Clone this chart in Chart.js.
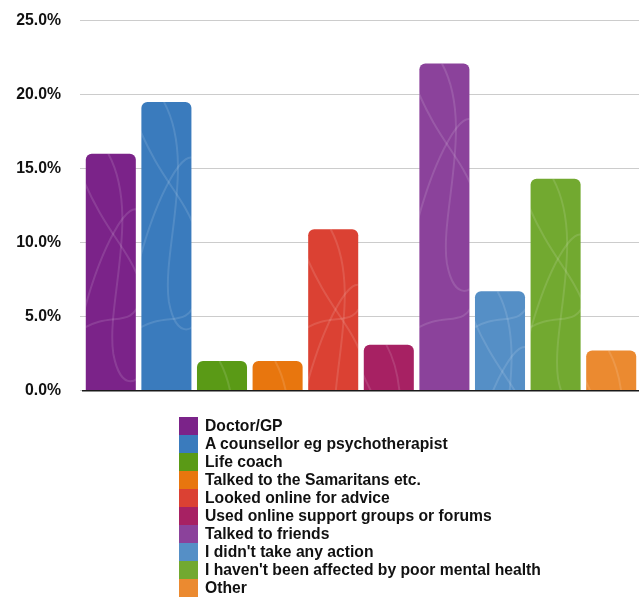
<!DOCTYPE html>
<html>
<head>
<meta charset="utf-8">
<script src="https://cdn.jsdelivr.net/npm/chart.js@4"></script>
<style>
  html, body { margin: 0; padding: 0; background: #fff; }
  #wrap { position: relative; width: 639px; height: 597px; overflow: hidden; }
  #chartBox { position: absolute; left: 0; top: -8px; width: 639px; height: 427px; }
  #legend { position: absolute; left: 179px; top: 417px; margin: 0; padding: 0; list-style: none; }
  #legend li { display: flex; align-items: center; height: 18px; }
  #legend span.box { width: 19px; height: 18px; margin-right: 7px; }
  #legend span.txt { font: bold 15.7px "Liberation Sans", Arial, sans-serif; color: #111; white-space: nowrap; }
</style>
</head>
<body>
<div id="wrap">
  <div id="chartBox"><canvas id="answersChart"></canvas></div>
  <ul id="legend"></ul>
</div>
<script>
// survey answers, share of respondents in %
const answers = [
  "Doctor/GP",
  "A counsellor eg psychotherapist",
  "Life coach",
  "Talked to the Samaritans etc.",
  "Looked online for advice",
  "Used online support groups or forums",
  "Talked to friends",
  "I didn't take any action",
  "I haven't been affected by poor mental health",
  "Other"
];
const shares = [16.0, 19.5, 2.0, 2.0, 10.9, 3.1, 22.1, 6.7, 14.3, 2.7];
const barColors = [
  "#7b2389", "#3a7bbd", "#5a9a16", "#e8760e", "#db4133",
  "#a72163", "#8b429b", "#558fc6", "#72a930", "#eb8a30"
];
const yTicks = [0, 5, 10, 15, 20, 25];

// faint swirl lines over each bar
const swirlPlugin = {
  id: "swirls",
  afterDatasetsDraw(chart) {
    const ctx = chart.ctx;
    chart.getDatasetMeta(0).data.forEach(bar => {
      const p = bar.getProps(["x", "y", "base", "width"], true);
      const left = p.x - p.width / 2, top = p.y, w = p.width, h = p.base - p.y;
      const X = f => left + f * w;
      ctx.save();
      ctx.beginPath();
      ctx.rect(left, top, w, h);
      ctx.clip();
      ctx.strokeStyle = "rgba(255,255,255,0.12)";
      ctx.lineWidth = 2;
      ctx.beginPath();
      ctx.moveTo(X(0.45), top);
      ctx.bezierCurveTo(X(1.1), top + 60, X(0.4), top + 150, X(0.55), top + 200);
      ctx.bezierCurveTo(X(0.7), top + 240, X(1.1), top + 230, X(1.2), top + 210);
      ctx.stroke();
      ctx.beginPath();
      ctx.moveTo(X(-0.1), top + 20);
      ctx.bezierCurveTo(X(0.4), top + 80, X(0.8), top + 90, X(1.1), top + 130);
      ctx.stroke();
      ctx.beginPath();
      ctx.moveTo(X(-0.1), top + 170);
      ctx.bezierCurveTo(X(0.3), top + 90, X(0.9), top + 40, X(1.1), top + 60);
      ctx.stroke();
      ctx.beginPath();
      ctx.moveTo(X(-0.1), p.base - 60);
      ctx.bezierCurveTo(X(0.5), p.base - 80, X(0.9), p.base - 60, X(1.1), p.base - 90);
      ctx.stroke();
      ctx.restore();
    });
  }
};

const chart = new Chart(document.getElementById("answersChart"), {
  type: "bar",
  data: {
    labels: answers,
    datasets: [{
      data: shares,
      backgroundColor: barColors,
      borderWidth: 0,
      borderRadius: { topLeft: 6, topRight: 6, bottomLeft: 0, bottomRight: 0 },
      borderSkipped: "bottom",
      barPercentage: 0.9,
      categoryPercentage: 1
    }]
  },
  options: {
    responsive: true,
    maintainAspectRatio: false,
    animation: false,
    layout: { padding: { top: 3, right: 0, bottom: 9, left: 0 } },
    plugins: { legend: { display: false }, tooltip: { enabled: false } },
    scales: {
      x: {
        ticks: { display: false },
        grid: { display: false, drawTicks: false },
        border: { display: true, color: "#1a1a1a", width: 1.5 }
      },
      y: {
        min: 0,
        max: 25,
        afterFit: s => { s.width = 83; },
        afterBuildTicks: s => { s.ticks = yTicks.map(v => ({ value: v })); },
        ticks: {
          padding: 19,
          color: "#111",
          font: { family: "Liberation Sans", size: 15.8, weight: "bold" },
          callback: v => v.toFixed(1) + "%"
        },
        grid: { color: "#cccccc", lineWidth: 1, drawTicks: true, tickLength: 3 },
        border: { display: false }
      }
    }
  },
  plugins: [swirlPlugin]
});

// legend list under the chart
const legendEl = document.getElementById("legend");
answers.forEach((name, i) => {
  const li = document.createElement("li");
  li.innerHTML = '<span class="box" style="background:' + barColors[i] + '"></span><span class="txt"></span>';
  li.querySelector(".txt").textContent = name;
  legendEl.appendChild(li);
});
</script>
</body>
</html>
